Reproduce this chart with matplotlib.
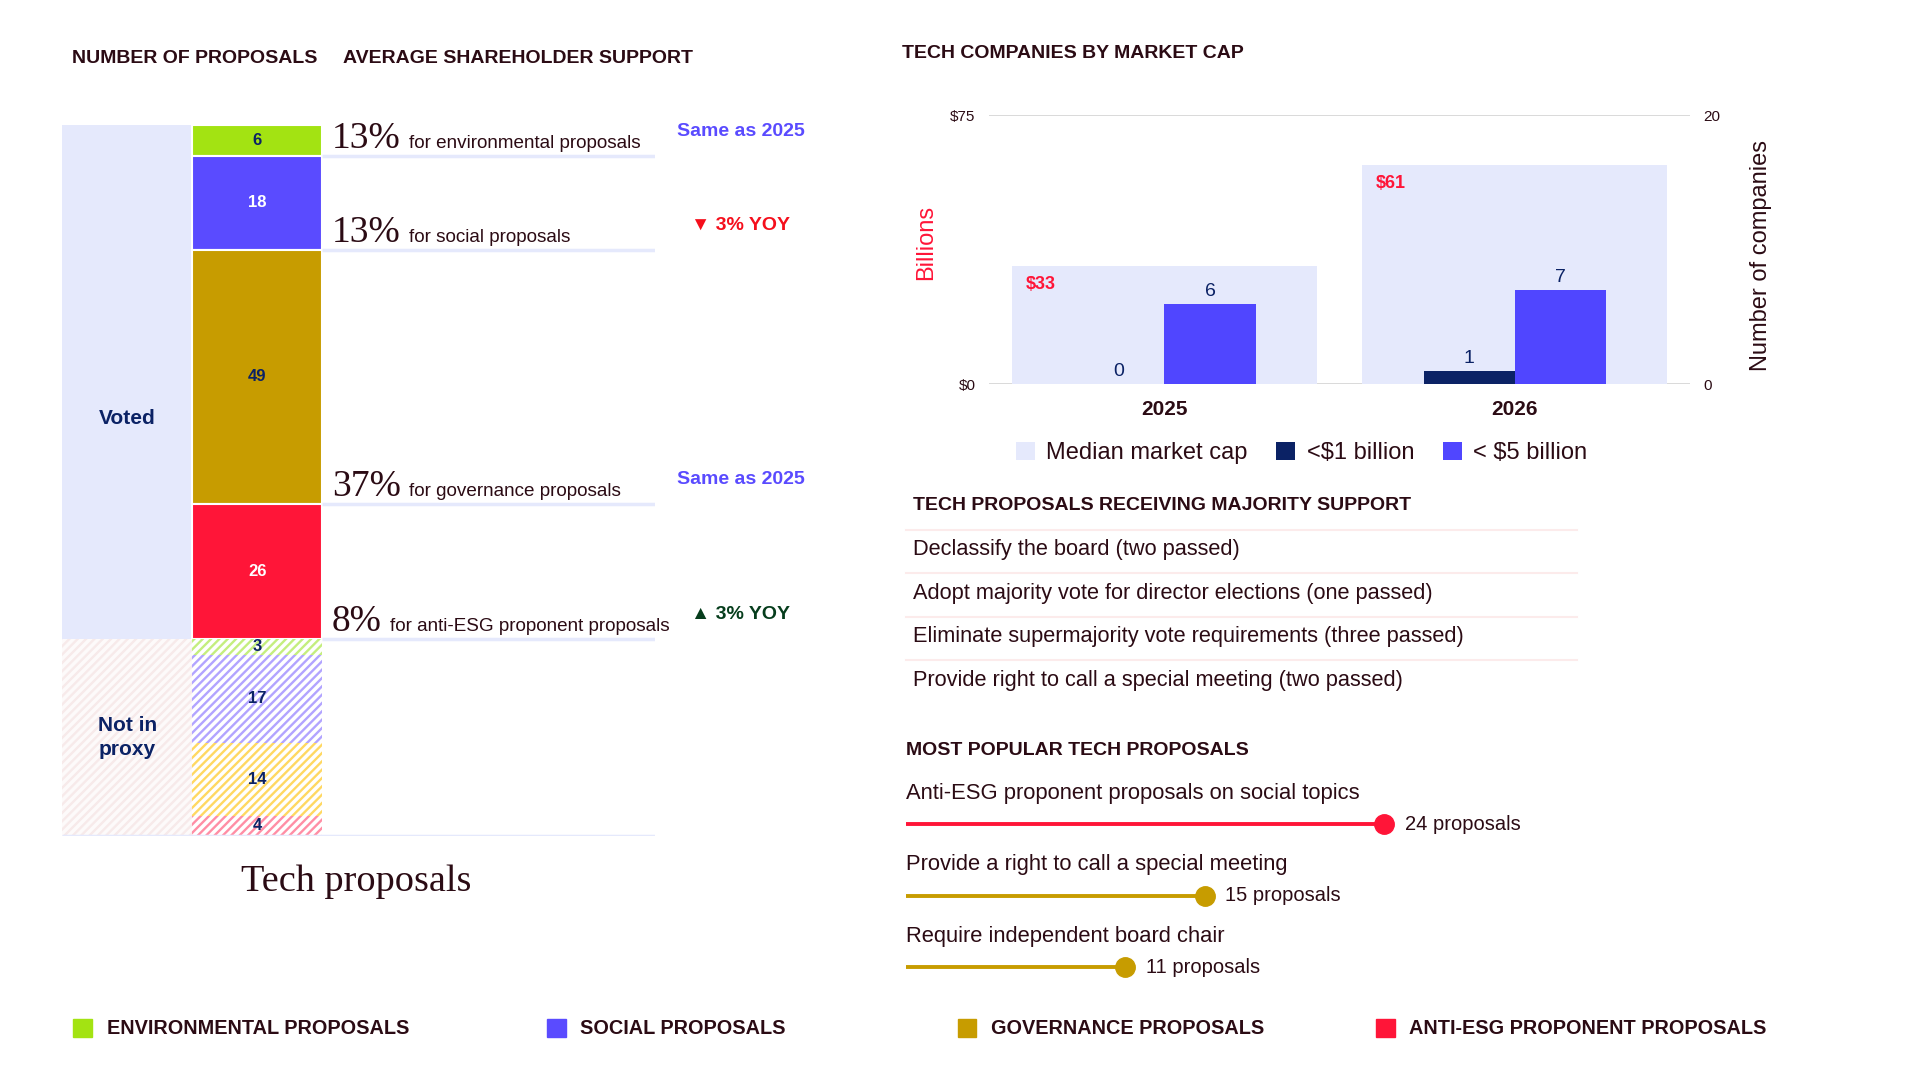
import numpy as np
import matplotlib
matplotlib.use("Agg")
import matplotlib.pyplot as plt
from matplotlib.patches import Rectangle

plt.rcParams['font.family'] = ['Liberation Sans', 'DejaVu Sans']
plt.rcParams['hatch.linewidth'] = 1.7

# ---- data ----
categories = ['ENVIRONMENTAL PROPOSALS', 'SOCIAL PROPOSALS',
              'GOVERNANCE PROPOSALS', 'ANTI-ESG PROPONENT PROPOSALS']
voted_counts = [6, 18, 49, 26]
proxy_counts = [3, 17, 14, 4]
support_pct = [13, 13, 37, 8]
support_text = ['for environmental proposals', 'for social proposals',
                'for governance proposals', 'for anti-ESG proponent proposals']
yoy_text = ['Same as 2025', '\u25bc 3% YOY', 'Same as 2025', '\u25b2 3% YOY']

years = ['2025', '2026']
median_cap = [33, 61]
under_1b = [0, 1]
under_5b = [6, 7]

majority_items = ['Declassify the board (two passed)',
                  'Adopt majority vote for director elections (one passed)',
                  'Eliminate supermajority vote requirements (three passed)',
                  'Provide right to call a special meeting (two passed)']

popular_items = ['Anti-ESG proponent proposals on social topics',
                 'Provide a right to call a special meeting',
                 'Require independent board chair']
popular_counts = [24, 15, 11]

# ---- colours ----
TXT = '#2b0b14'
NAVY = '#0b2265'
LAV = '#e5e9fc'
GREEN = '#a3e312'
BLUE = '#5a4bff'
BAR_BLUE = '#5046ff'
GOLD = '#c79c00'
RED = '#ff1538'
cat_colors = [GREEN, BLUE, GOLD, RED]
hatch_colors = ['#c4ee7e', '#b2a4ff', '#ffd862', '#ff8ea5']
num_colors = [NAVY, 'white', NAVY, 'white']
yoy_colors = [BLUE, '#f50f1c', BLUE, '#063d1c']
popular_colors = [RED, GOLD, GOLD]

W, H = 1568, 882
HATCH = '////'


def rect(l, t, r, b):
    return [l / W, 1 - b / H, (r - l) / W, (b - t) / H]


fig = plt.figure(figsize=(19.2, 10.8), dpi=100)

# overlay for free text
ov = fig.add_axes([0, 0, 1, 1])
ov.set_xlim(0, W)
ov.set_ylim(H, 0)
ov.axis('off')

head = dict(fontsize=14, fontweight='bold', color=TXT, va='center')
ov.text(59, 48, 'NUMBER OF PROPOSALS', **head)
ov.text(280, 48, 'AVERAGE SHAREHOLDER SUPPORT', **head)
ov.text(737, 44, 'TECH COMPANIES BY MARKET CAP', **head)
ov.text(746, 413, 'TECH PROPOSALS RECEIVING MAJORITY SUPPORT', **head)
ov.text(740, 613, 'MOST POPULAR TECH PROPOSALS', **head)
ov.text(291, 720, 'Tech proposals', fontsize=27.5, family='Liberation Serif',
        color=TXT, ha='center', va='center')

# ---- stacked bar of proposals ----
voted_total = sum(voted_counts)
proxy_total = sum(proxy_counts)
total = voted_total + proxy_total
xmax = 484 / 106

axs = fig.add_axes(rect(51, 102, 535, 683))
axs.set_xlim(0, xmax)
axs.set_ylim(total, 0)
axs.axis('off')

axs.bar(0.5, voted_total, width=1, bottom=0, color=LAV, linewidth=0)
axs.bar(0.5, proxy_total, width=1, bottom=voted_total, color='#fdfafa',
        edgecolor='#f7eaea', hatch=HATCH, linewidth=0)

voted_bottoms = np.concatenate([[0], np.cumsum(voted_counts)[:-1]])
vb = axs.bar(1.5, voted_counts, width=1, bottom=voted_bottoms,
             color=cat_colors, edgecolor='white', linewidth=1.5)
proxy_bottoms = voted_total + np.concatenate([[0], np.cumsum(proxy_counts)[:-1]])
pb = axs.bar(1.5, proxy_counts, width=1, bottom=proxy_bottoms,
             color='white', linewidth=0)
for p, c in zip(pb, hatch_colors):
    p.set_hatch(HATCH)
    p.set_edgecolor(c)

labs = axs.bar_label(vb, label_type='center', fontsize=12, fontweight='bold')
for t, c in zip(labs, num_colors):
    t.set_color(c)
axs.bar_label(pb, label_type='center', fontsize=12, fontweight='bold', color=NAVY)

ends = np.cumsum(voted_counts)
axs.hlines(ends, 2, xmax, color=LAV, linewidth=2.5)
axs.hlines(total, 0, xmax, color=LAV, linewidth=2.5)

axs.text(0.5, 56.5, 'Voted', ha='center', va='center', fontsize=15,
         fontweight='bold', color=NAVY)
axs.text(0.5, voted_total + proxy_total / 2, 'Not in\nproxy', ha='center',
         va='center', fontsize=15, fontweight='bold', color=NAVY, linespacing=1.35)

for i, y in enumerate(ends):
    yb = y - 1.5
    t1 = axs.text(2.075, yb, f'{support_pct[i]}%', fontsize=27,
                  family='Liberation Serif', color=TXT, va='baseline', clip_on=False)
    axs.annotate(support_text[i], xy=(1, yb), xycoords=(t1, 'data'),
                 xytext=(6, 0), textcoords='offset points', va='baseline',
                 fontsize=13.6, color=TXT, annotation_clip=False)
    axs.text(5.225, y - 4.7, yoy_text[i], ha='center', va='center', fontsize=14,
             fontweight='bold', color=yoy_colors[i], clip_on=False)

# ---- market cap chart ----
axb = fig.add_axes(rect(808, 94, 1380, 314))
x = np.arange(len(years))
mb = axb.bar(x, median_cap, width=0.87, color=LAV, zorder=2, label='Median market cap')
axb.set_xlim(-0.5, 1.5)
axb.set_ylim(0, 75)
axb.set_yticks([0, 75], ['$0', '$75'])
axb.set_xticks(x, years)
for t in axb.get_xticklabels():
    t.set_fontweight('bold')
axb.tick_params(axis='x', length=0, pad=11, labelsize=15, labelcolor=TXT)
axb.tick_params(axis='y', length=0, pad=10, labelsize=11, labelcolor=TXT)
axb.grid(axis='y', color='#d9d9d9', linewidth=1.4)
axb.set_axisbelow(True)
for s in axb.spines.values():
    s.set_visible(False)
axb.set_ylabel('Billions', color=RED, fontsize=17)
axb.yaxis.set_label_coords(-0.074, 0.527)
for xi, v in zip(x, median_cap):
    axb.annotate(f'${v}', xy=(xi - 0.435, v), xytext=(10, -13),
                 textcoords='offset points', ha='left', va='center',
                 fontsize=13, fontweight='bold', color=RED, zorder=3)

axc = axb.twinx()
b1 = axc.bar(x - 0.13, under_1b, width=0.26, color=NAVY, label='<$1 billion')
b5 = axc.bar(x + 0.13, under_5b, width=0.26, color=BAR_BLUE, label='< $5 billion')
axc.set_ylim(0, 20)
axc.set_yticks([0, 20])
axc.tick_params(axis='y', length=0, pad=10, labelsize=11, labelcolor=TXT)
for s in axc.spines.values():
    s.set_visible(False)
axc.bar_label(b1, padding=3, fontsize=14, color=NAVY)
axc.bar_label(b5, padding=3, fontsize=14, color=NAVY)
axc.set_ylabel('Number of companies', color=TXT, fontsize=17)
axc.yaxis.set_label_coords(1.086, 0.477)

fig.legend([mb, b1, b5], ['Median market cap', '<$1 billion', '< $5 billion'],
           loc='center', bbox_to_anchor=(1063 / W, 1 - 370 / H), ncol=3,
           frameon=False, fontsize=17, handlelength=0.8, handleheight=0.8,
           handletextpad=0.5, columnspacing=1.2, labelcolor=TXT)

# ---- majority support list ----
for i, item in enumerate(majority_items):
    ov.plot([740, 1288], [433 + 35.3 * i] * 2, color='#fcebeb', lw=1.5)
    ov.text(746, 449 + 35.5 * i, item, fontsize=15.7, color=TXT, va='center')

# ---- lollipops ----
px = 16.25
axl = fig.add_axes(rect(740, 600, 1540, 810))
axl.set_xlim(0, 800 / px)
axl.set_ylim(2.342, -1.248)
axl.axis('off')
for i, (lab, v, c) in enumerate(zip(popular_items, popular_counts, popular_colors)):
    axl.hlines(i, 0, v, color=c, linewidth=2.8)
    axl.plot(v, i, 'o', color=c, markersize=14)
    axl.annotate(f'{v} proposals', xy=(v, i), xytext=(15, 0),
                 textcoords='offset points', va='center', fontsize=14.5, color=TXT)
    axl.text(0, i - 0.43, lab, va='center', fontsize=15.8, color=TXT)

# ---- bottom legend ----
leg_x = [60, 447, 782, 1124]
for lx, name, c in zip(leg_x, categories, cat_colors):
    ov.add_patch(Rectangle((lx, 832), 15, 15, color=c))
    ov.text(lx + 27, 840, name, fontsize=14.3, fontweight='bold', color=TXT, va='center')

fig.savefig('out.png', dpi=100)
